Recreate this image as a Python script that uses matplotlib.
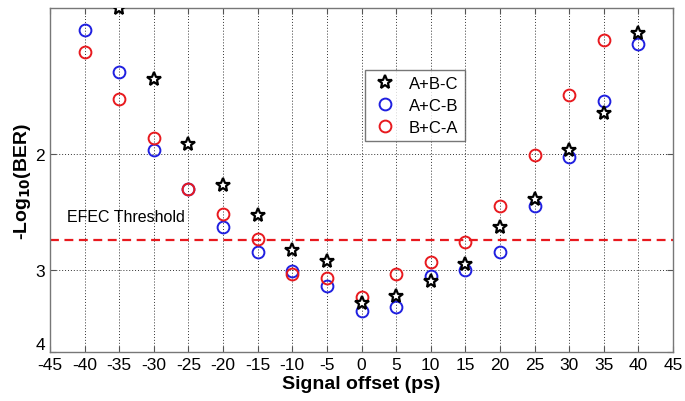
import numpy as np
import matplotlib
matplotlib.use('Agg')
import matplotlib.pyplot as plt
from matplotlib.ticker import NullLocator, FixedLocator, FixedFormatter

plt.rcParams['font.family'] = ['Liberation Sans', 'DejaVu Sans']
plt.rcParams['axes.unicode_minus'] = False

# values (-log10 BER)
offset_abc = [-35, -30, -25, -20, -15, -10, -5, 0, 5, 10, 15, 20, 25, 30, 35, 40]
ber_abc = [1.20, 1.54, 1.93, 2.23, 2.48, 2.80, 2.91, 3.37, 3.29, 3.12, 2.94, 2.58, 2.34, 1.97, 1.73, 1.31]

offset_acb = [-40, -35, -30, -25, -20, -15, -10, -5, 0, 5, 10, 15, 20, 25, 30, 35, 40]
ber_acb = [1.295, 1.50, 1.97, 2.26, 2.58, 2.82, 3.01, 3.18, 3.47, 3.42, 3.07, 3.00, 2.82, 2.40, 2.02, 1.66, 1.36]

offset_bca = [-40, -35, -30, -25, -20, -15, -10, -5, 0, 5, 10, 15, 20, 25, 30, 35]
ber_bca = [1.40, 1.65, 1.89, 2.26, 2.47, 2.69, 3.04, 3.09, 3.30, 3.04, 2.92, 2.72, 2.40, 2.01, 1.63, 1.34]

threshold = 2.70
xticks = list(range(-45, 50, 5))
yticks = [2, 3, 4]

fig = plt.figure(figsize=(6.85, 4.02), dpi=100)
ax = fig.add_axes([0.073, 0.122, 0.9095, 0.8556])

ax.axhline(threshold, color='#e8191e', linestyle=(0, (4, 2.5)), linewidth=1.6, zorder=2)
ax.text(-42.5, 2.49, 'EFEC Threshold', fontsize=11.5, va='center', ha='left')

ax.plot(offset_abc, ber_abc, linestyle='none', marker='*', markersize=10,
        markerfacecolor='white', markeredgecolor='black', markeredgewidth=1.6,
        label='A+B-C', zorder=4)
ax.plot(offset_acb, ber_acb, linestyle='none', marker='o', markersize=8.5,
        markerfacecolor='none', markeredgecolor='#1f1fe0', markeredgewidth=1.4,
        label='A+C-B', zorder=3)
ax.plot(offset_bca, ber_bca, linestyle='none', marker='o', markersize=8.5,
        markerfacecolor='none', markeredgecolor='#e8191e', markeredgewidth=1.4,
        label='B+C-A', zorder=3)

ax.set_yscale('log')
ax.set_ylim(4, 1.2)
ax.set_xlim(-45, 45)
ax.yaxis.set_major_locator(FixedLocator(yticks))
ax.yaxis.set_major_formatter(FixedFormatter([str(t) for t in yticks]))
ax.yaxis.set_minor_locator(NullLocator())
ax.set_xticks(xticks)

ax.grid(True, color='black', linestyle=(0, (1, 2)), linewidth=0.7, alpha=0.8)
ax.tick_params(direction='in', top=True, right=True, labelsize=12.5, length=4, color='#555555')
for s in ax.spines.values():
    s.set_color('#777777')
    s.set_linewidth(1.0)

# the "4" label sits a little above the axis corner, as in the reference
fig.canvas.draw()
for lab in ax.get_yticklabels():
    if lab.get_text() == '4':
        lab.set_va('bottom')

ax.set_xlabel('Signal offset (ps)', fontsize=14, fontweight='bold', labelpad=2)
ax.set_ylabel(r'-Log$_{\mathbf{10}}$(BER)', fontsize=14, fontweight='bold', labelpad=2)

leg = ax.legend(loc='upper left', bbox_to_anchor=(0.493, 0.845), fontsize=12,
                frameon=True, fancybox=False, edgecolor='#555555',
                handletextpad=0.6, borderpad=0.4, labelspacing=0.4, handlelength=1.6)
leg.get_frame().set_linewidth(1.0)

fig.savefig('out.png', dpi=100)
